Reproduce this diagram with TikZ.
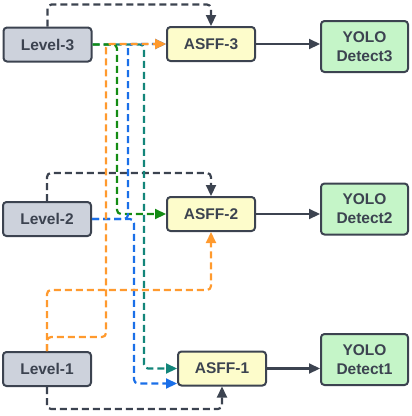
\documentclass[tikz,border=0pt]{standalone}
\usepackage{fontspec}
\setmainfont{Liberation Sans}
\usetikzlibrary{arrows.meta}
\definecolor{inkgray}{HTML}{3C4350}
\definecolor{levelfill}{HTML}{CDD2DC}
\definecolor{asfffill}{HTML}{FDFCCB}
\definecolor{yolofill}{HTML}{C5F5C8}
\definecolor{pathorange}{HTML}{FF9A2E}
\definecolor{pathgreen}{HTML}{148C14}
\definecolor{pathblue}{HTML}{1A6FE8}
\definecolor{pathteal}{HTML}{13857A}
\tikzset{
  box/.style={draw=inkgray, line width=2pt, rounded corners=3.5pt, minimum width=88pt, minimum height=34pt,
    font=\fontsize{15.5}{19}\selectfont\bfseries, text=inkgray, align=center, inner sep=2pt},
  levelbox/.style={box, fill=levelfill},
  asffbox/.style={box, fill=asfffill},
  yolobox/.style={box, fill=yolofill, minimum width=87pt, minimum height=51pt},
  link/.style={line width=2.2pt, dash pattern=on 7pt off 4pt, rounded corners=4pt, -{Triangle[length=11pt,width=10pt]}},
  feed/.style={draw=inkgray, line width=2.2pt, -{Triangle[length=11pt,width=10pt]}}
}
\begin{document}
\begin{tikzpicture}[x=1pt, y=-1pt]
\useasboundingbox (0,0) rectangle (412,416);
% inputs
\node[levelbox] (l3) at (47.5,44.5) {Level-3};
\node[levelbox] (l2) at (47,219) {Level-2};
\node[levelbox] (l1) at (47,369) {Level-1};
% fusion
\node[asffbox] (a3) at (211,44) {ASFF-3};
\node[asffbox] (a2) at (211,214) {ASFF-2};
\node[asffbox] (a1) at (222,368.5) {ASFF-1};
% heads
\node[yolobox] (y3) at (364.5,46.5) {YOLO\\Detect3};
\node[yolobox] (y2) at (364.5,209) {YOLO\\Detect2};
\node[yolobox] (y1) at (364.5,359.5) {YOLO\\Detect1};
% same level
\draw[link, inkgray] (l3.north) -- ++(0,-22) -| (a3.north);
\draw[link, inkgray] (l2.north) -- ++(0,-28) -| (a2.north);
\draw[link, inkgray] (l1.south) -- ++(0,22) -| (a1.south);
% level-3 down
\draw[link, pathteal] (l3.east) -| ([xshift=-33pt]a1.west) -- (a1.west);
\draw[link, pathgreen] (l3.east) -| ([xshift=-49pt]a2.west) -- (a2.west);
% level-2
\draw[link, pathblue] (l2.east) -| ([xshift=-38pt]a3.west) -- (a3.west);
\draw[link, pathblue] (l2.east) -| ([xshift=-43pt,yshift=-15pt]a1.west) -- ([yshift=-15pt]a1.west);
% level-1 up
\draw[link, pathorange] (l1.north) -- ++(0,-61) -| (a2.south);
\draw[link, pathorange] (l1.north) -- ++(0,-14) -| ([xshift=-60pt]a3.west) -- (a3.west);
% outputs
\draw[feed] (a3.east) -- (a3.east -| y3.west);
\draw[feed] (a2.east) -- (a2.east -| y2.west);
\draw[feed] (a1.east) -- (a1.east -| y1.west);
\end{tikzpicture}
\end{document}
